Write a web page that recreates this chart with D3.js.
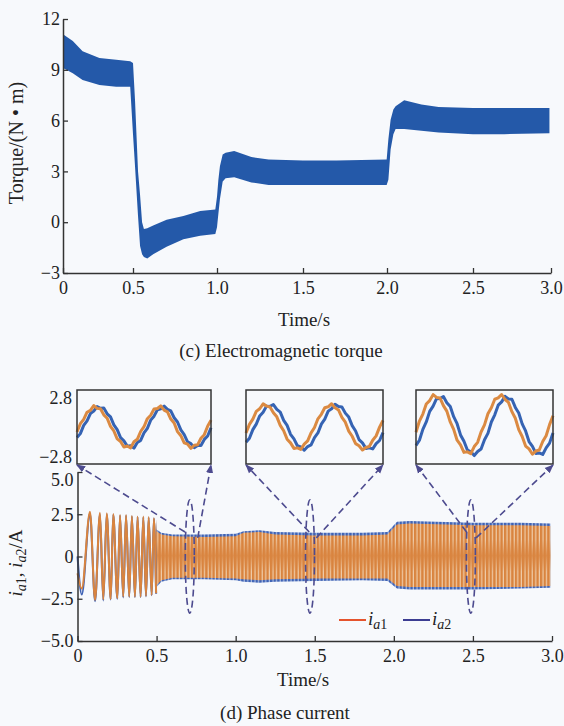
<!DOCTYPE html>
<html>
<head>
<meta charset="utf-8">
<script src="https://cdn.jsdelivr.net/npm/d3@7"></script>
<style>
  body { margin: 0; background: #f7f9fc; }
  svg { display: block; }
  svg text { font-family: "Liberation Serif", "Times New Roman", Tinos, "DejaVu Serif", serif; }
</style>
</head>
<body>
<div class="chart"></div>
<script>
// ---------- (c) electromagnetic torque: envelope of the ripple band ----------
const torqueTime  = [0, 0.07, 0.14, 0.26, 0.38, 0.48, 0.5, 0.512, 0.53, 0.542, 0.554, 0.565, 0.585, 0.62, 0.7, 0.8, 0.9, 0.99,
                     1.0, 1.008, 1.017, 1.033, 1.05, 1.1, 1.2, 1.3, 1.5, 1.7, 1.998,
                     2.008, 2.021, 2.037, 2.05, 2.1, 2.2, 2.3, 2.5, 2.7, 2.99];
const torqueUpper = [11.1, 10.7, 10.1, 9.7, 9.6, 9.5, 9.4, 7.2, 3.0, 1.6, 0.0, -0.4, -0.35, -0.2, 0.15, 0.37, 0.66, 0.75,
                     1.5, 2.5, 3.3, 4.0, 4.1, 4.2, 3.85, 3.7, 3.65, 3.65, 3.7,
                     4.9, 6.05, 6.65, 6.85, 7.2, 6.95, 6.8, 6.75, 6.75, 6.75];
const torqueLower = [9.1, 8.8, 8.4, 8.1, 8.0, 8.0, 5.2, 3.3, 0.35, -1.4, -1.9, -2.05, -2.15, -1.9, -1.45, -1.0, -0.8, -0.7,
                     -0.3, 0.5, 1.35, 2.4, 2.6, 2.65, 2.35, 2.2, 2.2, 2.2, 2.2,
                     2.5, 4.3, 5.2, 5.5, 5.5, 5.4, 5.3, 5.2, 5.2, 5.25];

// ---------- (d) phase current ----------
// start-up: individual extremes
const startTime = [0, 0.027, 0.079, 0.111, 0.142, 0.163, 0.185, 0.210, 0.226, 0.252, 0.269, 0.289,
                   0.307, 0.327, 0.344, 0.363, 0.380, 0.399, 0.416, 0.433, 0.450, 0.469, 0.483, 0.497];
const startIa1  = [-1.0, -1.9, 2.65, -2.57, 2.59, -2.53, 2.56, -2.53, 2.52, -2.47, 2.46, -2.38,
                   2.46, -2.38, 2.40, -2.38, 2.36, -2.38, 2.36, -2.34, 2.33, -2.28, 2.27, -2.18];
const startIa2  = [0, -2.25, 2.55, -2.65, 2.5, -2.6, 2.5, -2.55, 2.48, -2.5, 2.42, -2.42,
                   2.42, -2.4, 2.38, -2.4, 2.34, -2.4, 2.32, -2.36, 2.3, -2.3, 2.25, -2.2];
// steady part: envelope of the dense oscillation
const bandTime  = [0.497, 0.5, 0.53, 0.6, 0.8, 1.0, 1.05, 1.15, 1.25, 1.5, 1.8, 1.96, 2.02, 2.1, 2.5, 2.8, 2.99];
const ia1Upper  = [2.2, 1.5, 1.3, 1.2, 1.15, 1.2, 1.4, 1.45, 1.3, 1.25, 1.25, 1.3, 1.9, 1.95, 1.85, 1.85, 1.8];
const ia1Lower  = [-2.1, -1.7, -1.4, -1.25, -1.25, -1.3, -1.35, -1.4, -1.35, -1.3, -1.3, -1.3, -1.75, -1.8, -1.8, -1.8, -1.75];
const ia2Upper  = [2.2, 1.6, 1.4, 1.3, 1.3, 1.35, 1.5, 1.55, 1.45, 1.4, 1.4, 1.45, 2.05, 2.1, 2.0, 2.0, 1.95];
const ia2Lower  = [-2.1, -1.8, -1.5, -1.35, -1.35, -1.4, -1.5, -1.55, -1.5, -1.45, -1.4, -1.45, -1.9, -1.95, -1.95, -1.9, -1.85];

// zoomed windows (time of the marked spot) and arrow start points
const zoomTime   = [0.71, 1.47, 2.487];
const arrowLeftT = [0.68, 1.465, 2.46];
const arrowRightT = [0.76, 1.51, 2.52];
const arrowLeftV = 1.45, arrowRightV = 1.1, ellipseHalf = 3.35;

// inset waveforms, 41 samples across each window
const inset1Ia1 = [-0.38,0.25,0.58,1.12,1.26,1.62,1.41,1.38,0.92,0.66,0.05,-0.30,-0.90,-1.10,-1.52,-1.44,-1.58,-1.12,-0.93,-0.34,0.02,0.63,0.89,1.36,1.40,1.60,1.28,1.15,0.60,0.30,-0.35,-0.66,-1.20,-1.30,-1.62,-1.38,-1.35,-0.85,-0.58,0.06,0.52];
const inset1Ia2 = [-0.80,-0.50,0.12,0.47,1.02,1.20,1.55,1.42,1.44,1.00,0.76,0.16,-0.20,-0.80,-1.05,-1.45,-1.42,-1.60,-1.18,-1.02,-0.45,-0.10,0.52,0.82,1.30,1.38,1.58,1.33,1.22,0.70,0.38,-0.22,-0.57,-1.12,-1.26,-1.56,-1.40,-1.40,-0.94,-0.68,-0.06];
const inset2Ia1 = [-0.45,0.20,0.60,1.18,1.38,1.75,1.58,1.52,1.08,0.77,0.12,-0.28,-0.92,-1.20,-1.62,-1.58,-1.70,-1.30,-1.05,-0.44,-0.04,0.62,0.96,1.46,1.53,1.76,1.45,1.29,0.72,0.36,-0.31,-0.70,-1.26,-1.42,-1.74,-1.55,-1.48,-1.00,-0.67,-0.01,0.50];
const inset2Ia2 = [-1.15,-0.85,-0.20,0.22,0.84,1.12,1.58,1.56,1.70,1.33,1.12,0.50,0.12,-0.55,-0.90,-1.42,-1.50,-1.76,-1.48,-1.36,-0.80,-0.45,0.22,0.60,1.20,1.38,1.72,1.55,1.52,1.05,0.75,0.10,-0.30,-0.95,-1.20,-1.62,-1.58,-1.66,-1.26,-1.02,-0.42];
const inset3Ia1 = [-0.40,0.45,0.98,1.74,2.00,2.45,2.24,2.20,1.62,1.20,0.38,-0.18,-1.00,-1.36,-1.92,-1.88,-2.02,-1.48,-1.16,-0.38,0.16,1.00,1.46,2.10,2.20,2.46,2.08,1.86,1.16,0.66,-0.20,-0.72,-1.44,-1.66,-2.06,-1.82,-1.74,-1.10,-0.66,0.18,0.85];
const inset3Ia2 = [-1.40,-1.00,-0.18,0.38,1.18,1.58,2.14,2.16,2.30,1.84,1.55,0.78,0.25,-0.60,-1.08,-1.74,-1.88,-2.16,-1.85,-1.66,-0.96,-0.48,0.38,0.92,1.65,1.90,2.32,2.12,2.10,1.48,1.06,0.24,-0.30,-1.10,-1.46,-2.00,-1.96,-2.08,-1.58,-1.22,-0.46];

const timeTicks = [0, 0.5, 1, 1.5, 2, 2.5, 3];
const timeLabels = ["0", "0.5", "1.0", "1.5", "2.0", "2.5", "3.0"];
const torqueTicks = [-3, 0, 3, 6, 9, 12];
const currentTicks = [-5, -2.5, 0, 2.5, 5];
const currentLabels = ["\u22125.0", "\u22122.5", "0", "2.5", "5.0"];
const insetTicks = [-2.8, 2.8];

const W = 564, H = 726;
const ink = "#222";
const serif = "'Liberation Serif', 'Times New Roman', Tinos, 'DejaVu Serif', serif";
const svg = d3.select(".chart").append("svg")
  .attr("width", W).attr("height", H)
  .attr("viewBox", `0 0 ${W} ${H}`);

svg.append("rect").attr("width", W).attr("height", H).attr("fill", "#f7f9fc");

const defs = svg.append("defs");
const stripe = (id, bg, fg) => {
  const p = defs.append("pattern").attr("id", id)
    .attr("patternUnits", "userSpaceOnUse").attr("width", 3.6).attr("height", 10);
  p.append("rect").attr("width", 3.6).attr("height", 10).attr("fill", bg);
  p.append("rect").attr("width", 2.4).attr("height", 10).attr("fill", fg);
};
stripe("stripeA1", "#f0cdaa", "#d9843f");
stripe("stripeA2", "#a9bbe0", "#3f63b5");

// solid core of the current band (the oscillation crosses zero densely)
const core = defs.append("linearGradient").attr("id", "core")
  .attr("x1", 0).attr("y1", 0).attr("x2", 0).attr("y2", 1);
[[0, 0], [0.28, 0], [0.5, 0.85], [0.72, 0], [1, 0]].forEach(([o, a]) =>
  core.append("stop").attr("offset", o).attr("stop-color", "#d9843f").attr("stop-opacity", a));

defs.append("marker").attr("id", "arrow")
  .attr("viewBox", "0 0 10 10").attr("refX", 9).attr("refY", 5)
  .attr("markerUnits", "userSpaceOnUse")
  .attr("markerWidth", 9).attr("markerHeight", 9)
  .attr("orient", "auto")
  .append("path").attr("d", "M0,1 L10,5 L0,9 Z").attr("fill", "#4d4b8f");

const styleAxis = g => {
  g.attr("font-family", serif);
  g.select(".domain").attr("stroke", "#333").attr("stroke-width", 1.5);
  g.selectAll(".tick line").attr("stroke", "#333").attr("stroke-width", 1.3);
  g.selectAll(".tick text").attr("fill", ink).style("font-size", "18px");
};

// ================= panel (c) =================
const xT = d3.scaleLinear().domain(timeTicks).range([63, 133, 217, 303, 387, 473, 551]);
const yT = d3.scaleLinear().domain([-3, 12]).range([273, 19]);

const torqueData = torqueTime.map((t, i) => ({ t, hi: torqueUpper[i], lo: torqueLower[i] }));
svg.append("path")
  .datum(torqueData)
  .attr("fill", "#2459a9")
  .attr("d", d3.area().x(d => xT(d.t)).y0(d => yT(d.lo)).y1(d => yT(d.hi)));

svg.append("g").attr("transform", "translate(0,273)")
  .call(d3.axisBottom(xT).tickValues(timeTicks).tickFormat((d, i) => timeLabels[i])
    .tickSizeInner(-5).tickSizeOuter(0).tickPadding(8))
  .call(styleAxis);
svg.append("g").attr("transform", "translate(63,0)")
  .call(d3.axisLeft(yT).tickValues(torqueTicks).tickFormat(d => d < 0 ? "\u2212" + (-d) : d)
    .tickSizeInner(-5).tickSizeOuter(0).tickPadding(3))
  .call(styleAxis);

svg.append("text").attr("x", 304).attr("y", 326).attr("text-anchor", "middle")
  .style("font-size", "19px").attr("fill", ink).text("Time/s");
svg.append("text").attr("x", 281).attr("y", 357).attr("text-anchor", "middle")
  .style("font-size", "19px").attr("fill", ink).text("(c) Electromagnetic torque");
svg.append("text").attr("transform", "translate(23,143) rotate(-90)").attr("text-anchor", "middle")
  .style("font-size", "20px").attr("fill", ink).text("Torque/(N \u2022 m)");

// ================= panel (d) =================
const xC = d3.scaleLinear().domain([0, 3]).range([77.5, 552]);
const yC = d3.scaleLinear().domain([-5, 5]).range([641, 472]);

const bandData = bandTime.map((t, i) => ({ t, hi1: ia1Upper[i], lo1: ia1Lower[i], hi2: ia2Upper[i], lo2: ia2Lower[i] }));
const band1 = d3.area().x(d => xC(d.t)).y0(d => yC(d.lo1)).y1(d => yC(d.hi1));
svg.append("path").datum(bandData).attr("fill", "url(#stripeA2)")
  .attr("d", d3.area().x(d => xC(d.t)).y0(d => yC(d.lo2)).y1(d => yC(d.hi2)));
svg.append("path").datum(bandData).attr("fill", "url(#stripeA1)").attr("d", band1);
svg.append("path").datum(bandData).attr("fill", "url(#core)").attr("d", band1);

const startLine = vals => d3.line().curve(d3.curveMonotoneX)
  .x(t => xC(t)).y((t, i) => yC(vals[i]));
svg.append("path").datum(startTime).attr("fill", "none")
  .attr("stroke", "#3f63b5").attr("stroke-width", 2).attr("d", startLine(startIa2));
svg.append("path").datum(startTime).attr("fill", "none")
  .attr("stroke", "#d9843f").attr("stroke-width", 2).attr("d", startLine(startIa1));

svg.append("g").attr("transform", "translate(0,641)")
  .call(d3.axisBottom(xC).tickValues(timeTicks).tickFormat((d, i) => timeLabels[i])
    .tickSizeInner(-5).tickSizeOuter(0).tickPadding(8))
  .call(styleAxis);
const yAxisC = svg.append("g").attr("transform", "translate(77.5,0)")
  .call(d3.axisLeft(yC).tickValues(currentTicks).tickFormat((d, i) => currentLabels[i])
    .tickSizeInner(-5).tickSizeOuter(0).tickPadding(4))
  .call(styleAxis);
yAxisC.selectAll(".tick text").filter(d => d === 5).attr("dy", "0.75em");

// insets
const boxes = [[77, 211], [246, 383], [416, 553]];
const insetTop = 390, insetBottom = 464;
const yI = d3.scaleLinear().domain([-2.8, 2.8]).range([insetBottom, insetTop]);
const insetSets = [[inset1Ia1, inset1Ia2], [inset2Ia1, inset2Ia2], [inset3Ia1, inset3Ia2]];

boxes.forEach((b, k) => {
  const xI = d3.scaleLinear().domain([0, 40]).range(b);
  const line = d3.line().x((v, i) => xI(i)).y(v => yI(v));
  svg.append("path").datum(insetSets[k][1]).attr("fill", "none")
    .attr("stroke", "#3563b3").attr("stroke-width", 3).attr("stroke-linejoin", "round").attr("d", line);
  svg.append("path").datum(insetSets[k][0]).attr("fill", "none")
    .attr("stroke", "#db8a42").attr("stroke-width", 3).attr("stroke-linejoin", "round").attr("d", line);
  svg.append("rect").attr("x", b[0]).attr("y", insetTop)
    .attr("width", b[1] - b[0]).attr("height", insetBottom - insetTop)
    .attr("fill", "none").attr("stroke", "#333").attr("stroke-width", 1.5);

  // dashed marker ellipse and arrows to the inset corners
  const dash = "7,4";
  svg.append("ellipse").attr("cx", xC(zoomTime[k])).attr("cy", yC(0))
    .attr("rx", 4.5).attr("ry", yC(0) - yC(ellipseHalf))
    .attr("fill", "none").attr("stroke", "#4d4b8f").attr("stroke-width", 1.6).attr("stroke-dasharray", dash);
  svg.append("line")
    .attr("x1", xC(arrowLeftT[k])).attr("y1", yC(arrowLeftV))
    .attr("x2", b[0]).attr("y2", insetBottom + 1)
    .attr("stroke", "#4d4b8f").attr("stroke-width", 1.6).attr("stroke-dasharray", dash)
    .attr("marker-end", "url(#arrow)");
  svg.append("line")
    .attr("x1", xC(arrowRightT[k])).attr("y1", yC(arrowRightV))
    .attr("x2", b[1]).attr("y2", insetBottom + 1)
    .attr("stroke", "#4d4b8f").attr("stroke-width", 1.6).attr("stroke-dasharray", dash)
    .attr("marker-end", "url(#arrow)");
});

svg.append("text").attr("x", 72).attr("y", yI(insetTicks[1]) + 14).attr("text-anchor", "end")
  .style("font-size", "18px").attr("fill", ink).text("2.8");
svg.append("text").attr("x", 72).attr("y", yI(insetTicks[0]) - 1).attr("text-anchor", "end")
  .style("font-size", "18px").attr("fill", ink).text("\u22122.8");

// legend
const legend = [
  { sub: "1", color: "#e5532d", x: 339 },
  { sub: "2", color: "#3c3d92", x: 403 }
];
legend.forEach(l => {
  svg.append("line").attr("x1", l.x).attr("x2", l.x + 27).attr("y1", 620).attr("y2", 620)
    .attr("stroke", l.color).attr("stroke-width", 2);
  const t = svg.append("text").attr("x", l.x + 29).attr("y", 625).attr("fill", ink).style("font-size", "19px");
  t.append("tspan").style("font-style", "italic").text("i");
  t.append("tspan").style("font-style", "italic").style("font-size", "14px").attr("dy", 4).text("a");
  t.append("tspan").style("font-size", "14px").text(l.sub);
});

// y label of panel (d)
const yl = svg.append("text").attr("transform", "translate(22,563) rotate(-90)")
  .attr("text-anchor", "middle").attr("fill", ink).style("font-size", "19px");
yl.append("tspan").style("font-style", "italic").text("i");
yl.append("tspan").style("font-style", "italic").style("font-size", "14px").attr("dy", 4).text("a");
yl.append("tspan").style("font-size", "14px").text("1");
yl.append("tspan").attr("dy", -4).text(", ");
yl.append("tspan").style("font-style", "italic").text("i");
yl.append("tspan").style("font-style", "italic").style("font-size", "14px").attr("dy", 4).text("a");
yl.append("tspan").style("font-size", "14px").text("2");
yl.append("tspan").attr("dy", -4).text("/A");

svg.append("text").attr("x", 303).attr("y", 686).attr("text-anchor", "middle")
  .style("font-size", "19px").attr("fill", ink).text("Time/s");
svg.append("text").attr("x", 285).attr("y", 719).attr("text-anchor", "middle")
  .style("font-size", "19px").attr("fill", ink).text("(d) Phase current");
</script>
</body>
</html>
